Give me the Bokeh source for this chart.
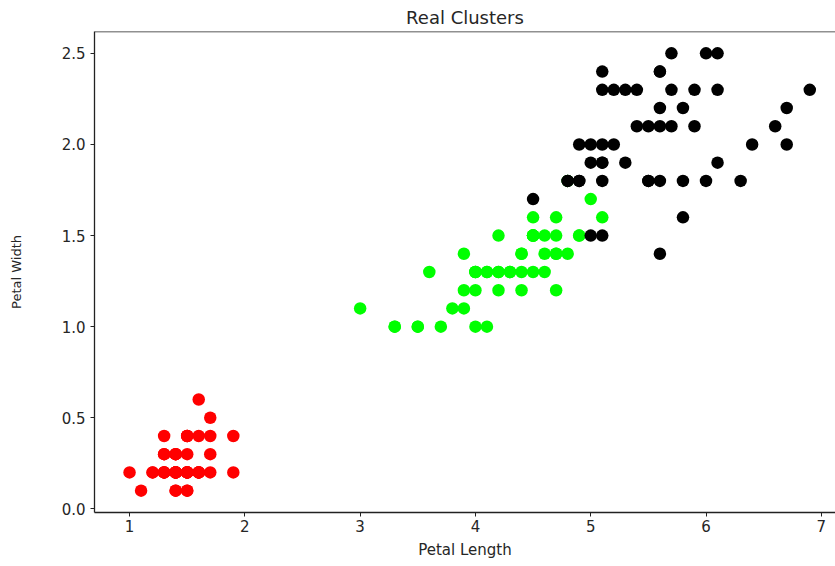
from bokeh.plotting import figure
from bokeh.models import Span, FixedTicker, NumeralTickFormatter
from bokeh.embed import file_html
from bokeh.resources import INLINE

setosa_len = [1.4,1.4,1.3,1.5,1.4,1.7,1.4,1.5,1.4,1.5,1.5,1.6,1.4,1.1,1.2,1.5,1.3,1.4,1.7,1.5,
              1.7,1.5,1.0,1.7,1.9,1.6,1.6,1.5,1.4,1.6,1.6,1.5,1.5,1.4,1.5,1.2,1.3,1.4,1.3,1.5,
              1.3,1.3,1.3,1.6,1.9,1.4,1.6,1.4,1.5,1.4]
setosa_wid = [0.2,0.2,0.2,0.2,0.2,0.4,0.3,0.2,0.2,0.1,0.2,0.2,0.1,0.1,0.2,0.4,0.4,0.3,0.3,0.3,
              0.2,0.4,0.2,0.5,0.2,0.2,0.4,0.2,0.2,0.2,0.2,0.4,0.1,0.2,0.2,0.2,0.2,0.1,0.2,0.2,
              0.3,0.3,0.2,0.6,0.4,0.3,0.2,0.2,0.2,0.2]
versi_len = [4.7,4.5,4.9,4.0,4.6,4.5,4.7,3.3,4.6,3.9,3.5,4.2,4.0,4.7,3.6,4.4,4.5,4.1,4.5,3.9,
             4.8,4.0,4.9,4.7,4.3,4.4,4.8,5.0,4.5,3.5,3.8,3.7,3.9,5.1,4.5,4.5,4.7,4.4,4.1,4.0,
             4.4,4.6,4.0,3.3,4.2,4.2,4.2,4.3,3.0,4.1]
versi_wid = [1.4,1.5,1.5,1.3,1.5,1.3,1.6,1.0,1.3,1.4,1.0,1.5,1.0,1.4,1.3,1.4,1.5,1.0,1.5,1.1,
             1.8,1.3,1.5,1.2,1.3,1.4,1.4,1.7,1.5,1.0,1.1,1.0,1.2,1.6,1.5,1.6,1.5,1.3,1.3,1.3,
             1.2,1.4,1.2,1.0,1.3,1.2,1.3,1.3,1.1,1.3]
virg_len = [6.0,5.1,5.9,5.6,5.8,6.6,4.5,6.3,5.8,6.1,5.1,5.3,5.5,5.0,5.1,5.3,5.5,6.7,6.9,5.0,
            5.7,4.9,6.7,4.9,5.7,6.0,4.8,4.9,5.6,5.8,6.1,6.4,5.6,5.1,5.6,6.1,5.6,5.5,4.8,5.4,
            5.6,5.1,5.1,5.9,5.7,5.2,5.0,5.2,5.4,5.1]
virg_wid = [2.5,1.9,2.1,1.8,2.2,2.1,1.7,1.8,1.8,2.5,2.0,1.9,2.1,2.0,2.4,2.3,1.8,2.2,2.3,1.5,
            2.3,2.0,2.0,1.8,2.1,1.8,1.8,1.8,2.1,1.6,1.9,2.0,2.2,1.5,1.4,2.3,2.4,1.8,1.8,2.1,
            2.4,2.3,1.9,2.3,2.5,2.3,1.9,2.0,2.3,1.8]
x_ticks = [1, 2, 3, 4, 5, 6, 7]
y_ticks = [0.0, 0.5, 1.0, 1.5, 2.0, 2.5]

FONT = "DejaVu Sans"
DARK = "#262626"

p = figure(width=835, height=561, output_backend="svg", toolbar_location=None,
           x_range=(0.696, 7.123), y_range=(-0.02, 2.62),
           title="Real Clusters",
           min_border_left=94, min_border_top=31, min_border_bottom=47, min_border_right=0)

p.title.align = "center"
p.title.text_font = FONT
p.title.text_font_size = "18px"
p.title.text_font_style = "normal"
p.title.text_color = DARK
p.title.standoff = 8
p.title.offset = 0

p.outline_line_color = None
p.grid.visible = False
p.background_fill_color = "white"
p.border_fill_color = "white"

for ax in (p.xaxis[0], p.yaxis[0]):
    ax.axis_line_color = "#222222"
    ax.axis_line_width = 1.3
    ax.major_tick_line_color = "#222222"
    ax.major_tick_out = 4
    ax.major_tick_in = 0
    ax.minor_tick_line_color = None
    ax.major_label_text_font = FONT
    ax.major_label_text_font_size = "15px"
    ax.major_label_text_color = DARK
    ax.axis_label_text_font = FONT
    ax.axis_label_text_font_style = "normal"
    ax.axis_label_text_color = DARK

p.xaxis.ticker = FixedTicker(ticks=x_ticks)
p.yaxis.ticker = FixedTicker(ticks=y_ticks)
p.yaxis.formatter = NumeralTickFormatter(format="0.0")
p.xaxis.axis_label = "Petal Length"
p.yaxis.axis_label = "Petal Width"
p.xaxis.axis_label_text_font_size = "15px"
p.yaxis.axis_label_text_font_size = "13px"
p.xaxis.major_label_standoff = 3
p.yaxis.major_label_standoff = 5
p.xaxis.axis_label_standoff = 6
p.yaxis.axis_label_standoff = 35

p.add_layout(Span(location=2.62, dimension="width", line_color="#222222", line_width=1.3))

p.scatter(setosa_len, setosa_wid, size=12.5, color="red", line_color=None)
p.scatter(versi_len, versi_wid, size=12.5, color="lime", line_color=None)
p.scatter(virg_len, virg_wid, size=12.5, color="black", line_color=None)

open("out.html", "w").write(file_html(p, INLINE))
